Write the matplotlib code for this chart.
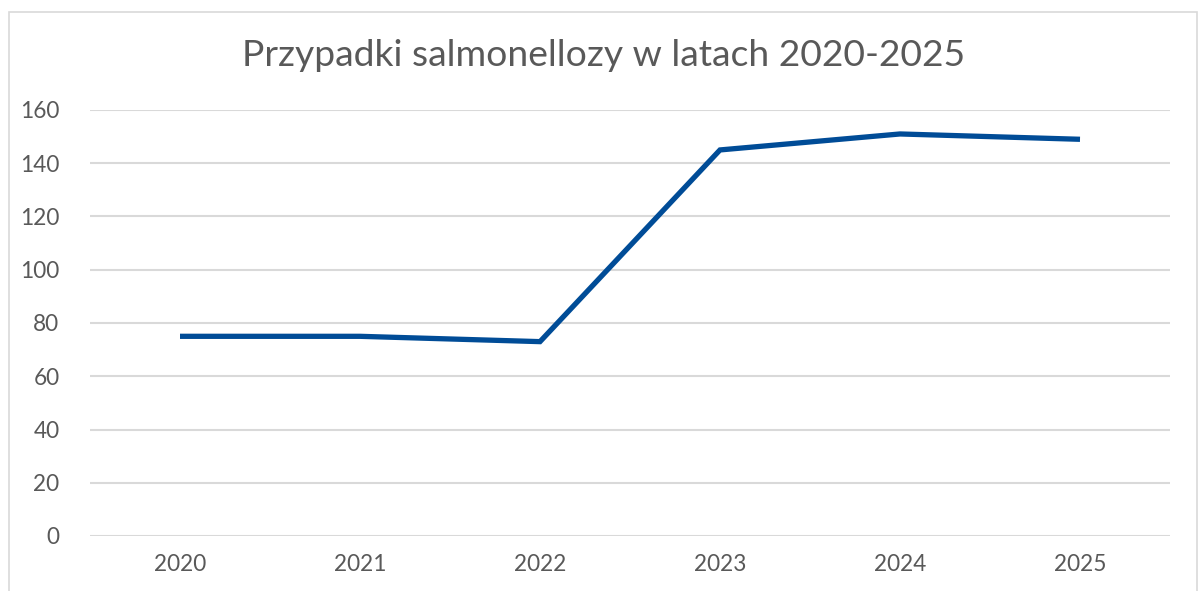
import matplotlib
matplotlib.use("Agg")
import matplotlib.pyplot as plt
from matplotlib.patches import Rectangle

# Salmonellosis cases per year
years = ["2020", "2021", "2022", "2023", "2024", "2025"]
cases = [75, 75, 73, 145, 151, 149]
y_ticks = [0, 20, 40, 60, 80, 100, 120, 140, 160]

TEXT = "#595959"
GRID = "#D9D9D9"
LINE = "#004C97"

plt.rcParams["font.family"] = ["Lato", "DejaVu Sans"]

W, H = 1199, 591
fig = plt.figure(figsize=(W / 100, H / 100), dpi=100)
fig.patch.set_facecolor("white")

# chart border
fig.add_artist(Rectangle((9 / W, -0.05), (1197 - 9) / W, 1.05 - 12 / H,
                         transform=fig.transFigure, fill=False,
                         edgecolor=GRID, linewidth=1.2))

ax = fig.add_axes([90 / W, 1 - 536 / H, (1170 - 90) / W, (536 - 110) / H])
x = range(len(years))
ax.plot(x, cases, color=LINE, linewidth=3.8, solid_joinstyle="miter",
        solid_capstyle="butt", zorder=3)

ax.set_xlim(-0.5, len(years) - 0.5)
ax.set_ylim(0, 160)
ax.set_yticks(y_ticks)
ax.set_xticks(list(x))
ax.set_xticklabels(years)
ax.grid(axis="y", color=GRID, linewidth=1.5)
ax.set_axisbelow(True)
for s in ax.spines.values():
    s.set_visible(False)
ax.tick_params(axis="both", length=0, labelsize=16.3, colors=TEXT)
ax.tick_params(axis="y", pad=22)
ax.tick_params(axis="x", pad=13)

fig.text(604 / W, 1 - 55 / H, "Przypadki salmonellozy w latach 2020-2025",
         ha="center", va="center", fontsize=26.8, color=TEXT)

fig.savefig("out.png", dpi=100)
